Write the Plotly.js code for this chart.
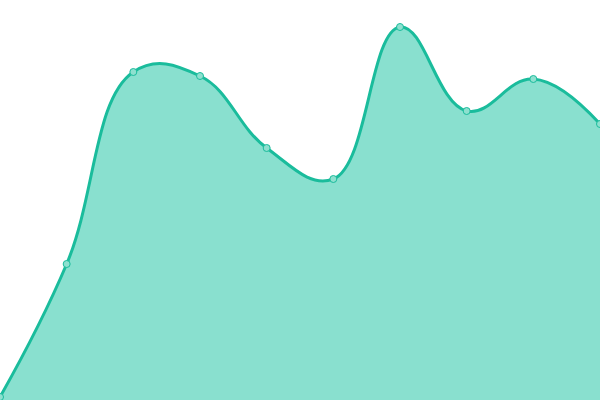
<!DOCTYPE html>
<html>
<head>
<meta charset="utf-8">
<script src="https://cdn.plot.ly/plotly-3.0.1.min.js"></script>
<style>
  html, body { margin: 0; padding: 0; background: #fff; }
  #chart { width: 600px; height: 400px; }
</style>
</head>
<body>
<div id="chart"></div>
<script>
const xs = [0, 1, 2, 3, 4, 5, 6, 7, 8, 9];
const values = [3, 136, 328, 324, 252, 221, 373, 289, 321, 276];

Plotly.newPlot("chart", [{
  x: xs,
  y: values,
  type: "scatter",
  mode: "lines+markers",
  fill: "tozeroy",
  fillcolor: "#89e0cf",
  line: { color: "#1abc9c", width: 3, shape: "spline", smoothing: 1.2 },
  marker: { size: 7, color: "#8ee0cf", line: { color: "#1abc9c", width: 1 } },
  cliponaxis: false,
  hoverinfo: "none"
}], {
  width: 600,
  height: 400,
  paper_bgcolor: "#fff",
  plot_bgcolor: "#fff",
  showlegend: false,
  margin: { t: 0, l: 0, r: 0, b: 0 },
  xaxis: { range: [0, 9], visible: false, fixedrange: true },
  yaxis: { range: [0, 400], visible: false, fixedrange: true }
}, { displayModeBar: false, staticPlot: true });
</script>
</body>
</html>
